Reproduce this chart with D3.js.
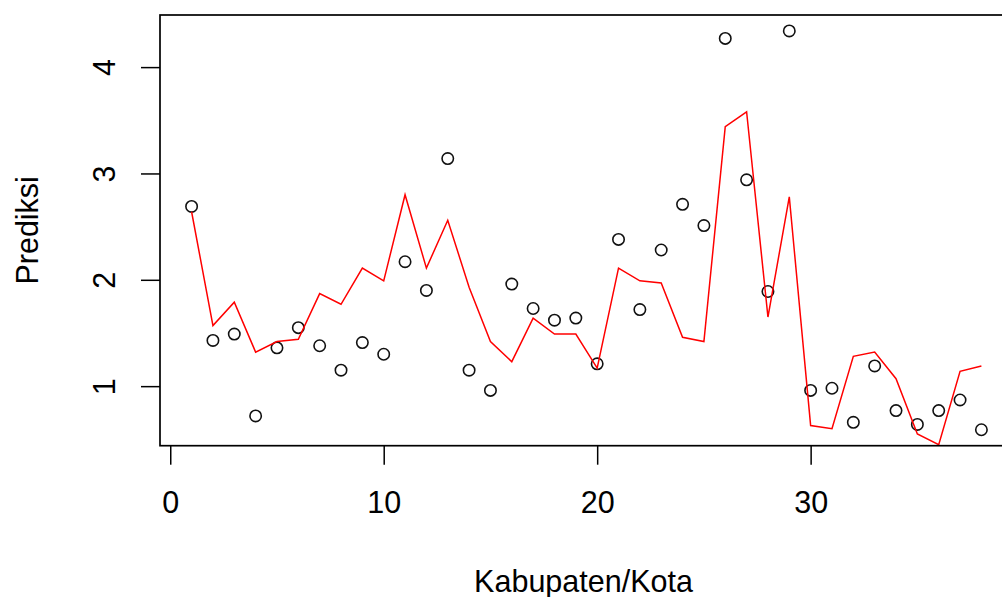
<!DOCTYPE html>
<html>
<head>
<meta charset="utf-8">
<script src="https://cdn.jsdelivr.net/npm/d3@7"></script>
<style>
  body { margin: 0; background: #fff; }
  svg { display: block; overflow: hidden; }
  text { font-family: "Liberation Sans", Arial, sans-serif; fill: #000; }
</style>
</head>
<body>
<div id="chart"></div>
<script>
// observed values, one per Kabupaten/Kota (index 1..38)
var observed = [2.69, 1.43, 1.49, 0.72, 1.36, 1.55, 1.38, 1.15, 1.41, 1.30,
  2.17, 1.90, 3.14, 1.15, 0.96, 1.96, 1.73, 1.62, 1.64, 1.21,
  2.38, 1.72, 2.28, 2.71, 2.51, 4.27, 2.94, 1.89, 4.34, 0.96,
  0.98, 0.66, 1.19, 0.77, 0.64, 0.77, 0.87, 0.59];

// predicted values (red line)
var predicted = [2.64, 1.57, 1.79, 1.32, 1.42, 1.44, 1.87, 1.77, 2.11, 1.99,
  2.80, 2.11, 2.56, 1.93, 1.42, 1.23, 1.64, 1.49, 1.49, 1.17,
  2.11, 1.99, 1.97, 1.46, 1.42, 3.44, 3.58, 1.65, 2.78, 0.63,
  0.60, 1.28, 1.32, 1.07, 0.55, 0.45, 1.14, 1.19];

var xTicks = [0, 10, 20, 30];
var yTicks = [1, 2, 3, 4];

var width = 1002, height = 597;
var plotLeft = 160, plotRight = 1013, plotTop = 15, plotBottom = 445.7;

var idx = observed.map((d, i) => i + 1);

// R style 4% range extension, limits taken from the plotted points
function extendRange(ext) {
  var pad = (ext[1] - ext[0]) * 0.04;
  return [ext[0] - pad, ext[1] + pad];
}

var x = d3.scaleLinear()
  .domain(extendRange(d3.extent(idx)))
  .range([plotLeft, plotRight]);

var y = d3.scaleLinear()
  .domain(extendRange(d3.extent(observed)))
  .range([plotBottom, plotTop]);

var svg = d3.select("#chart").append("svg")
  .attr("width", width)
  .attr("height", height);

svg.append("rect").attr("width", width).attr("height", height).attr("fill", "#fff");

svg.append("clipPath").attr("id", "plotClip")
  .append("rect")
  .attr("x", plotLeft).attr("y", plotTop)
  .attr("width", plotRight - plotLeft).attr("height", plotBottom - plotTop);

// points
svg.append("g")
  .selectAll("circle")
  .data(observed)
  .enter().append("circle")
  .attr("cx", (d, i) => x(i + 1))
  .attr("cy", d => y(d))
  .attr("r", 5.7)
  .attr("fill", "none")
  .attr("stroke", "#111")
  .attr("stroke-width", 1.6);

// prediction line
var line = d3.line()
  .x((d, i) => x(i + 1))
  .y(d => y(d));

svg.append("path")
  .datum(predicted)
  .attr("clip-path", "url(#plotClip)")
  .attr("d", line)
  .attr("fill", "none")
  .attr("stroke", "#ff0000")
  .attr("stroke-width", 1.5)
  .attr("stroke-linejoin", "miter");

// x axis
var xAxis = svg.append("g")
  .attr("transform", `translate(0,${plotBottom})`)
  .call(d3.axisBottom(x).tickValues(xTicks).tickSize(19).tickPadding(27).tickFormat(d3.format("d")));
xAxis.select(".domain").remove();
xAxis.selectAll("line").attr("stroke", "#000").attr("stroke-width", 1.5);
xAxis.selectAll("text").style("font-size", "30.5px");

// y axis, labels parallel to the axis
var yAxis = svg.append("g")
  .attr("transform", `translate(${plotLeft},0)`)
  .call(d3.axisLeft(y).tickValues(yTicks).tickSize(19).tickFormat(d3.format("d")));
yAxis.select(".domain").remove();
yAxis.selectAll("line").attr("stroke", "#000").attr("stroke-width", 1.5);
yAxis.selectAll("text")
  .attr("x", 0)
  .attr("y", -45)
  .attr("dy", null)
  .attr("text-anchor", "middle")
  .attr("transform", "rotate(-90)")
  .style("font-size", "30.5px");

// box
svg.append("rect")
  .attr("x", plotLeft).attr("y", plotTop)
  .attr("width", plotRight - plotLeft).attr("height", plotBottom - plotTop)
  .attr("fill", "none")
  .attr("stroke", "#000")
  .attr("stroke-width", 1.7);

// axis titles
svg.append("text")
  .attr("x", (plotLeft + plotRight) / 2 - 3)
  .attr("y", 592)
  .attr("text-anchor", "middle")
  .style("font-size", "30.5px")
  .text("Kabupaten/Kota");

svg.append("text")
  .attr("transform", `translate(38,${(plotTop + plotBottom) / 2}) rotate(-90)`)
  .attr("text-anchor", "middle")
  .style("font-size", "30.5px")
  .text("Prediksi");
</script>
</body>
</html>
